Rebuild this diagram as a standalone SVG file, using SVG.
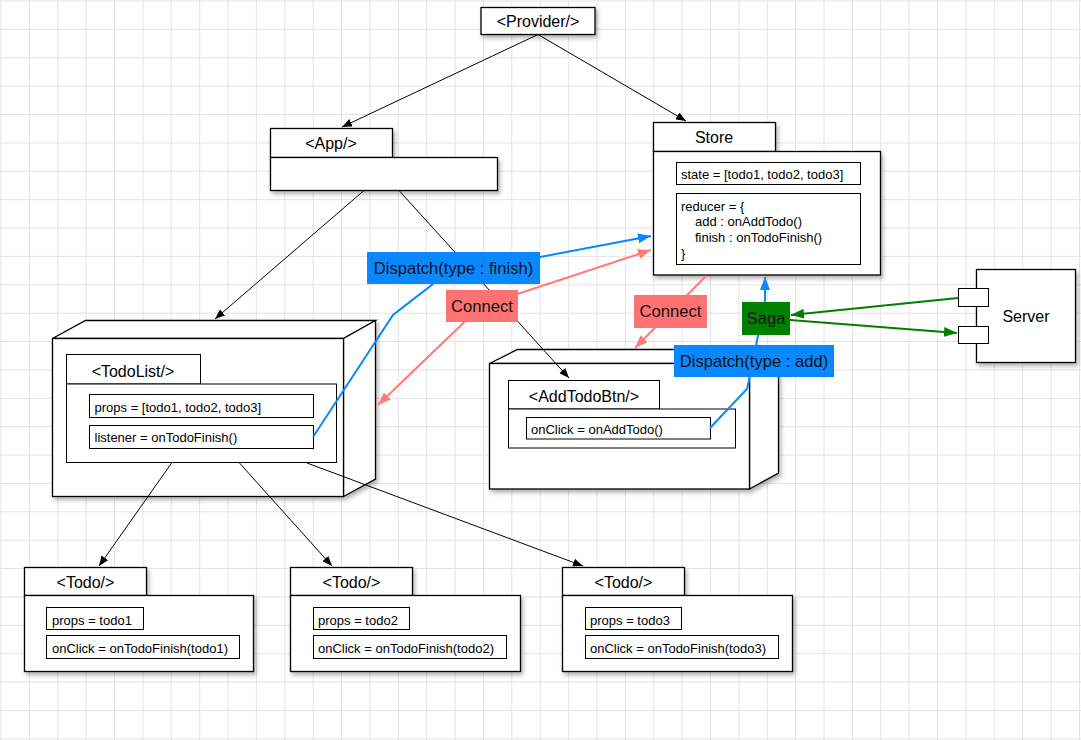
<svg xmlns="http://www.w3.org/2000/svg" width="1081" height="740" viewBox="0 0 1081 740">
<defs>
<style>
.box{fill:#fff;stroke:#000;stroke-width:1.3}
.in{fill:#fff;stroke:#000;stroke-width:1}
text{font-family:"Liberation Sans",Arial,sans-serif;fill:#000}
.h{font-size:16px}
.t{font-size:13px}
.m{text-anchor:middle}
.lbl{font-size:16.6px;text-anchor:middle;fill:#111}
.cb{stroke:#000;stroke-width:1;fill:none}
.blue{stroke:#0a88ff;stroke-width:2;fill:none}
.red{stroke:#ff7a7a;stroke-width:2;fill:none}
.green{stroke:#008000;stroke-width:2;fill:none}
</style>
<pattern id="grid" width="28.38" height="28.38" patternUnits="userSpaceOnUse" x="0.5" y="0.5">
<path d="M0 0.5 H28.38 M0.5 0 V28.38" stroke="#e3e3e3" stroke-width="1" fill="none"/>
</pattern>
<filter id="sh" x="-10%" y="-10%" width="130%" height="140%">
<feDropShadow dx="2" dy="3" stdDeviation="2" flood-color="#000" flood-opacity="0.3"/>
</filter>
<marker id="ab" markerWidth="11" markerHeight="8" refX="10" refY="4" orient="auto" markerUnits="userSpaceOnUse"><path d="M0,0 L10,4 L0,8 z" fill="#000"/></marker>
<marker id="abl" markerWidth="14" markerHeight="10" refX="13" refY="5" orient="auto" markerUnits="userSpaceOnUse"><path d="M0,0 L13,5 L0,10 z" fill="#0a88ff"/></marker>
<marker id="ar" markerWidth="14" markerHeight="10" refX="13" refY="5" orient="auto-start-reverse" markerUnits="userSpaceOnUse"><path d="M0,0 L13,5 L0,10 z" fill="#ff7a7a"/></marker>
<marker id="ag" markerWidth="14" markerHeight="10" refX="13" refY="5" orient="auto" markerUnits="userSpaceOnUse"><path d="M0,0 L13,5 L0,10 z" fill="#008000"/></marker>
</defs>
<rect x="0" y="0" width="1081" height="740" fill="#fff"/>
<rect x="0" y="0" width="1081" height="740" fill="url(#grid)"/>

<g id="provider">
<rect class="box" x="481" y="7.5" width="114" height="27" filter="url(#sh)"/>
<text class="h m" x="538" y="27">&lt;Provider/&gt;</text>
</g>

<g id="app">
<rect class="box" x="270.5" y="128.5" width="122" height="29" filter="url(#sh)"/>
<rect class="box" x="270.5" y="157.5" width="227" height="33" filter="url(#sh)"/>
<text class="h m" x="331" y="149">&lt;App/&gt;</text>
</g>

<g id="store">
<rect class="box" x="653.5" y="122.5" width="122" height="29" filter="url(#sh)"/>
<rect class="box" x="653.5" y="151.5" width="227" height="123.5" filter="url(#sh)"/>
<text class="h m" x="714" y="143">Store</text>
<rect class="in" x="676.5" y="162.5" width="184" height="22"/>
<text class="t" x="681" y="179">state = [todo1, todo2, todo3]</text>
<rect class="in" x="676.5" y="193.5" width="184" height="71"/>
<text class="t" x="681" y="210.5">reducer = {</text>
<text class="t" x="695" y="226">add : onAddTodo()</text>
<text class="t" x="695" y="241.5">finish : onTodoFinish()</text>
<text class="t" x="681" y="257.5">}</text>
</g>

<g id="todolist">
<g filter="url(#sh)">
<polygon class="box" points="52.5,338.5 85.5,320.5 375.5,320.5 343.5,338.5"/>
<polygon class="box" points="343.5,338.5 375.5,320.5 375.5,479 343.5,496.5"/>
<rect class="box" x="52.5" y="338.5" width="291" height="158"/>
</g>
<rect class="in" x="66.5" y="354.5" width="134" height="29.5"/>
<rect class="in" x="66.5" y="384" width="270" height="78.5"/>
<text class="h m" x="133" y="376.5">&lt;TodoList/&gt;</text>
<rect class="in" x="89.5" y="394.5" width="224" height="23"/>
<text class="t" x="94.5" y="411.5">props = [todo1, todo2, todo3]</text>
<rect class="in" x="89.5" y="425.5" width="224" height="23"/>
<text class="t" x="94.5" y="442">listener = onTodoFinish()</text>
</g>

<g id="addtodobtn">
<g filter="url(#sh)">
<polygon class="box" points="489.5,363.5 517.5,349.5 778.5,349.5 749.5,363.5"/>
<polygon class="box" points="749.5,363.5 778.5,349.5 778.5,473 749.5,489"/>
<rect class="box" x="489.5" y="363.5" width="260" height="125.5"/>
</g>
<rect class="in" x="508.5" y="380.5" width="151" height="28.5"/>
<rect class="in" x="508.5" y="409" width="227" height="39"/>
<text class="h m" x="584" y="401.5">&lt;AddTodoBtn/&gt;</text>
<rect class="in" x="526.5" y="417.5" width="184" height="21.5"/>
<text class="t" x="531" y="433.5">onClick = onAddTodo()</text>
</g>

<g id="server">
<rect class="box" x="976.5" y="269.5" width="99" height="93" filter="url(#sh)"/>
<rect class="in" x="958.5" y="288.5" width="30" height="18"/>
<rect class="in" x="958.5" y="326.5" width="30" height="17"/>
<text class="h m" x="1026" y="322">Server</text>
</g>

<g id="todo1">
<rect class="box" x="24.5" y="567.5" width="122" height="28" filter="url(#sh)"/>
<rect class="box" x="24.5" y="595.5" width="229" height="76" filter="url(#sh)"/>
<text class="h m" x="85.5" y="588">&lt;Todo/&gt;</text>
<rect class="in" x="46.5" y="607.5" width="97" height="22"/>
<text class="t" x="52" y="624.5">props = todo1</text>
<rect class="in" x="46.5" y="635.5" width="193" height="23"/>
<text class="t" x="52" y="652.5">onClick = onTodoFinish(todo1)</text>
</g>

<g id="todo2">
<rect class="box" x="290.5" y="567.5" width="122" height="28" filter="url(#sh)"/>
<rect class="box" x="290.5" y="595.5" width="230" height="76" filter="url(#sh)"/>
<text class="h m" x="351.5" y="588">&lt;Todo/&gt;</text>
<rect class="in" x="313.5" y="607.5" width="96" height="22"/>
<text class="t" x="318" y="624.5">props = todo2</text>
<rect class="in" x="313.5" y="635.5" width="193" height="23"/>
<text class="t" x="318" y="652.5">onClick = onTodoFinish(todo2)</text>
</g>

<g id="todo3">
<rect class="box" x="562.5" y="567.5" width="122" height="28" filter="url(#sh)"/>
<rect class="box" x="562.5" y="595.5" width="230" height="76" filter="url(#sh)"/>
<text class="h m" x="623.5" y="588">&lt;Todo/&gt;</text>
<rect class="in" x="585.5" y="607.5" width="96" height="22"/>
<text class="t" x="590" y="624.5">props = todo3</text>
<rect class="in" x="585.5" y="635.5" width="193" height="23"/>
<text class="t" x="590" y="652.5">onClick = onTodoFinish(todo3)</text>
</g>

<g id="connectors">
<line class="cb" x1="538" y1="34.5" x2="342" y2="127" marker-end="url(#ab)"/>
<line class="cb" x1="538" y1="34.5" x2="686" y2="121" marker-end="url(#ab)"/>
<line class="cb" x1="364" y1="190.5" x2="215" y2="319" marker-end="url(#ab)"/>
<line class="cb" x1="399" y1="190.5" x2="569" y2="378" marker-end="url(#ab)"/>
<line class="cb" x1="172" y1="462.5" x2="99" y2="566" marker-end="url(#ab)"/>
<line class="cb" x1="239" y1="462.5" x2="332" y2="566" marker-end="url(#ab)"/>
<line class="cb" x1="307" y1="463" x2="583" y2="566" marker-end="url(#ab)"/>
<polyline class="blue" points="313,437 393,315 437,281 540,257 651,236" marker-end="url(#abl)"/>
<polyline class="red" points="378,405 481,306 651,250" marker-start="url(#ar)" marker-end="url(#ar)"/>
<line class="red" x1="706" y1="276" x2="635" y2="348" marker-end="url(#ar)"/>
<polyline class="blue" points="710,428 747,389 750,376 765,300 765,277" marker-end="url(#abl)"/>
<line class="green" x1="958" y1="298" x2="791" y2="315" marker-end="url(#ag)"/>
<line class="green" x1="790" y1="320" x2="957" y2="333" marker-end="url(#ag)"/>
<g id="label-dispatch-finish">
<rect x="367" y="252" width="173" height="32" fill="#0a88ff"/>
<text class="lbl" x="453.5" y="274">Dispatch(type : finish)</text>
</g>
<g id="label-connect-left">
<rect x="446" y="290" width="72" height="32" fill="#ff7272"/>
<text class="lbl" x="482" y="312">Connect</text>
</g>
<g id="label-connect-right">
<rect x="634" y="295" width="73" height="33" fill="#ff7272"/>
<text class="lbl" x="670.5" y="317">Connect</text>
</g>
<g id="label-saga">
<rect x="742" y="302" width="48" height="33" fill="#008000"/>
<text class="lbl" x="766" y="324">Saga</text>
</g>
<g id="label-dispatch-add">
<rect x="674" y="345" width="160" height="32" fill="#0a88ff"/>
<text class="lbl" x="754" y="367">Dispatch(type : add)</text>
</g>
</g>
</svg>
